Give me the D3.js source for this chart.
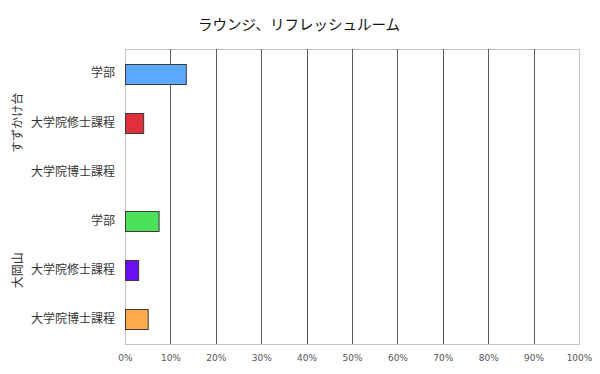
<!DOCTYPE html>
<html>
<head>
<meta charset="utf-8">
<script src="https://cdn.jsdelivr.net/npm/d3@7"></script>
<style>
  body { margin: 0; background: #fff; }
  text { font-family: "Noto Sans CJK JP", "Noto Sans", sans-serif; }
</style>
</head>
<body>
<div id="chart"></div>
<script>
// chart data
var title = "ラウンジ、リフレッシュルーム";
var groups = ["すずかけ台", "大岡山"];
var categories = ["学部", "大学院修士課程", "大学院博士課程", "学部", "大学院修士課程", "大学院博士課程"];
var categoryGroup = [0, 0, 0, 1, 1, 1];
var values = [13.4, 4.0, 0, 7.4, 2.9, 5.0];
var barColors = ["#5ca8ff", "#e0303a", "#e0303a", "#4de05a", "#6a0ff2", "#ffaa4c"];
var ticks = [0, 10, 20, 30, 40, 50, 60, 70, 80, 90, 100];

var width = 600, height = 374;
var margin = {top: 49, right: 21, bottom: 30, left: 125};
var plotW = width - margin.left - margin.right,
    plotH = height - margin.top - margin.bottom;

var svg = d3.select("#chart").append("svg")
    .attr("width", width)
    .attr("height", height);

var x = d3.scaleLinear().domain([0, 100]).range([0, plotW]);
var y = d3.scaleBand()
    .domain(d3.range(categories.length))
    .range([0, plotH])
    .paddingInner(0.59)
    .paddingOuter(0.295);

var g = svg.append("g")
    .attr("transform", "translate(" + margin.left + "," + margin.top + ")");

// -> title
svg.append("text")
    .attr("x", 299)
    .attr("y", 30)
    .attr("text-anchor", "middle")
    .attr("font-size", 14.5)
    .attr("fill", "#111")
    .text(title);

// -> plot frame (light gray)
g.append("rect")
    .attr("x", 0.5).attr("y", 0.5)
    .attr("width", plotW).attr("height", plotH)
    .attr("fill", "none")
    .attr("stroke", "#c4c4c4");

// -> gridlines (dark)
g.selectAll(".grid")
    .data(ticks.filter(function(t) { return t > 0 && t < 100; }))
    .enter().append("line")
    .attr("class", "grid")
    .attr("x1", function(d) { return Math.round(x(d)) + 0.5; })
    .attr("x2", function(d) { return Math.round(x(d)) + 0.5; })
    .attr("y1", 0)
    .attr("y2", plotH)
    .attr("stroke", "#5a5a5a");

// -> x axis labels
var xAxis = g.append("g")
    .attr("transform", "translate(0," + plotH + ")")
    .call(d3.axisBottom(x)
        .tickValues(ticks)
        .tickSize(0)
        .tickPadding(11)
        .tickFormat(function(d) { return d + "%"; }));
xAxis.select(".domain").remove();
xAxis.selectAll("text")
    .attr("font-size", 9)
    .attr("fill", "#555")
    .style("font-family", "\"DejaVu Sans\", sans-serif");

// -> category labels
var yAxis = g.append("g")
    .call(d3.axisLeft(y)
        .tickSize(0)
        .tickPadding(10)
        .tickFormat(function(i) { return categories[i]; }));
yAxis.select(".domain").remove();
yAxis.selectAll("text")
    .attr("font-size", 12)
    .attr("fill", "#333");

// -> group labels (rotated)
groups.forEach(function(name, gi) {
    var idx = d3.range(categories.length).filter(function(i) { return categoryGroup[i] === gi; });
    var y0 = y(idx[0]) - y.step() * y.paddingInner() / 2,
        y1 = y(idx[idx.length - 1]) + y.bandwidth() + y.step() * y.paddingInner() / 2;
    var cy = margin.top + (y0 + y1) / 2;
    svg.append("text")
        .attr("text-anchor", "middle")
        .attr("transform", "translate(22," + cy + ")rotate(-90)")
        .attr("font-size", 12)
        .attr("fill", "#333")
        .text(name);
});

// -> bars
g.selectAll(".bar")
    .data(d3.range(categories.length).filter(function(i) { return values[i] > 0; }))
    .enter().append("rect")
    .attr("class", "bar")
    .attr("x", x(0) + 0.5)
    .attr("y", function(i) { return Math.round(y(i)) + 0.5; })
    .attr("width", function(i) { return x(values[i]); })
    .attr("height", Math.round(y.bandwidth()))
    .attr("fill", function(i) { return barColors[i]; })
    .attr("stroke", "#3a3a3a");
</script>
</body>
</html>
